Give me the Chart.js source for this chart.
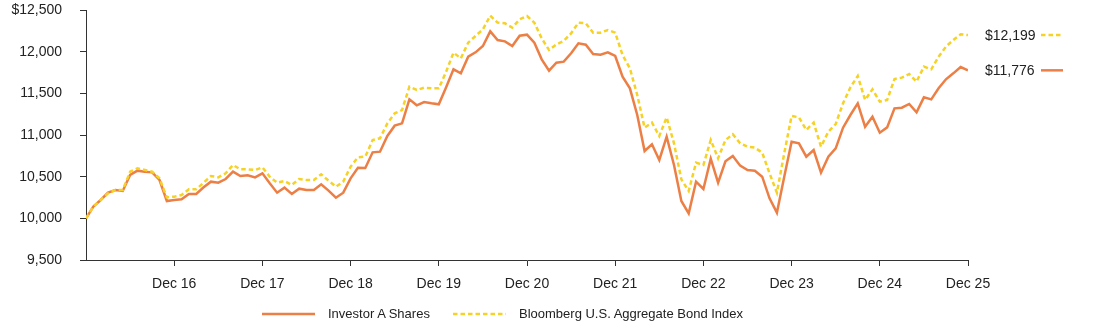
<!DOCTYPE html>
<html>
<head>
<meta charset="utf-8">
<script src="https://cdn.jsdelivr.net/npm/chart.js@4.4.1/dist/chart.umd.min.js"></script>
<style>
  html, body { margin: 0; padding: 0; background: #fff; }
  #wrap { position: relative; width: 1094px; height: 327px; }
  #c { display: block; }
  #legend { position: absolute; left: 0; top: 305px; height: 18px; width: 1094px;
    font-family: Arial, "Liberation Sans", sans-serif; font-size: 13px; color: #222; }
  .li { position: absolute; top: 0; height: 18px; line-height: 18px; white-space: nowrap; }
  .sw { position: absolute; top: 0; }
</style>
</head>
<body>
<div id="wrap">
  <canvas id="c" width="1094" height="327"></canvas>
  <div id="legend"></div>
</div>
<script>
const seriesNames = ["Investor A Shares", "Bloomberg U.S. Aggregate Bond Index"];
const xTickLabels = ["Dec 16","Dec 17","Dec 18","Dec 19","Dec 20","Dec 21","Dec 22","Dec 23","Dec 24","Dec 25"];
const yTickValues = [9500, 10000, 10500, 11000, 11500, 12000, 12500];

const investorA = [
  10000,10140,10220,10308,10340,10328,10520,10572,10560,10552,10460,10208,
  10220,10228,10292,10292,10372,10440,10428,10472,10560,10508,10516,10492,
  10540,10420,10308,10368,10292,10356,10340,10340,10408,10332,10248,10308,
  10480,10608,10604,10792,10800,10988,11112,11140,11428,11356,11396,11380,
  11368,11572,11788,11740,11940,11992,12068,12244,12140,12124,12068,12192,
  12204,12108,11908,11772,11868,11880,11980,12100,12084,11972,11964,11992,
  11948,11700,11560,11240,10808,10888,10700,10980,10640,10208,10060,10440,
  10352,10716,10428,10684,10748,10632,10580,10572,10500,10240,10068,10500,
  10920,10900,10740,10820,10548,10740,10840,11088,11240,11380,11100,11220,
  11028,11092,11320,11328,11372,11272,11452,11428,11560,11668,11740,11816,
  11776
];
const bloomberg = [
  10000,10140,10220,10300,10340,10340,10560,10600,10580,10560,10480,10252,
  10260,10280,10348,10348,10428,10508,10492,10540,10640,10588,10588,10580,
  10612,10500,10428,10448,10400,10472,10460,10460,10528,10452,10380,10440,
  10620,10732,10740,10940,10960,11140,11260,11300,11580,11540,11568,11560,
  11560,11760,11988,11920,12108,12188,12268,12432,12348,12340,12288,12388,
  12428,12348,12160,12020,12088,12128,12220,12348,12340,12228,12228,12260,
  12228,11960,11800,11480,11088,11148,10988,11212,10900,10468,10328,10668,
  10640,10940,10720,10940,11008,10900,10860,10848,10788,10540,10308,10780,
  11228,11212,11060,11148,10860,11040,11132,11380,11572,11708,11420,11548,
  11400,11420,11672,11688,11732,11640,11820,11788,11940,12060,12140,12208,
  12199
];

const ORANGE = "#EC7F45";
const YELLOW = "#F6D226";
const FONT = 'Arial, "Liberation Sans", sans-serif';
const DASH = [4.5, 3];

function fmt(v) { return v.toLocaleString("en-US"); }

const endLabels = {
  id: "endLabels",
  afterDatasetsDraw(chart) {
    const ctx = chart.ctx;
    const ys = chart.scales.y;
    ctx.save();
    ctx.font = "14px " + FONT;
    ctx.fillStyle = "#222";
    ctx.textAlign = "left";
    ctx.textBaseline = "middle";
    chart.data.datasets.forEach(ds => {
      const last = ds.data[ds.data.length - 1].y;
      const y = ys.getPixelForValue(last);
      ctx.fillText("$" + fmt(last), 985, y + 1);
      ctx.beginPath();
      ctx.strokeStyle = ds.borderColor;
      ctx.lineWidth = ds.borderWidth;
      ctx.setLineDash(ds.borderDash || []);
      ctx.moveTo(1041, y);
      ctx.lineTo(1063, y);
      ctx.stroke();
      ctx.setLineDash([]);
    });
    ctx.restore();
  }
};

const chart = new Chart(document.getElementById("c"), {
  type: "line",
  data: {
    datasets: [
      {
        label: seriesNames[0],
        data: investorA.map((v, i) => ({ x: i, y: v })),
        borderColor: ORANGE,
        borderWidth: 2.5,
        pointRadius: 0,
        tension: 0,
        order: 1
      },
      {
        label: seriesNames[1],
        data: bloomberg.map((v, i) => ({ x: i, y: v })),
        borderColor: YELLOW,
        borderWidth: 2.5,
        borderDash: DASH,
        pointRadius: 0,
        tension: 0,
        order: 0
      }
    ]
  },
  options: {
    responsive: false,
    animation: false,
    events: [],
    layout: { padding: { left: 0, right: 126, top: 10, bottom: 37 } },
    plugins: { legend: { display: false }, tooltip: { enabled: false } },
    scales: {
      x: {
        type: "linear",
        min: 0,
        max: investorA.length - 1,
        afterBuildTicks(scale) {
          scale.ticks = xTickLabels.map((_, k) => ({ value: (k + 1) * 12 }));
        },
        afterFit(scale) { scale.height = 30; scale.paddingLeft = 0; scale.paddingRight = 0; },
        ticks: {
          autoSkip: false,
          maxRotation: 0,
          padding: 10,
          color: "#222",
          font: { family: FONT, size: 14 },
          callback: (v) => xTickLabels[v / 12 - 1]
        },
        grid: { drawOnChartArea: false, drawTicks: true, tickLength: 6, color: "#333", lineWidth: 1 },
        border: { display: true, color: "#333", width: 1 }
      },
      y: {
        min: yTickValues[0],
        max: yTickValues[yTickValues.length - 1],
        afterBuildTicks(scale) {
          scale.ticks = yTickValues.map(v => ({ value: v }));
        },
        afterFit(scale) { scale.width = 86; scale.paddingTop = 0; scale.paddingBottom = 0; },
        ticks: {
          padding: 18,
          color: "#222",
          font: { family: FONT, size: 14 },
          callback: (v) => (v === yTickValues[yTickValues.length - 1] ? "$" : "") + fmt(v)
        },
        grid: { drawOnChartArea: false, drawTicks: true, tickLength: 6, color: "#333", lineWidth: 1 },
        border: { display: true, color: "#333", width: 1 }
      }
    }
  },
  plugins: [endLabels]
});

// HTML legend
(function () {
  const leg = document.getElementById("legend");
  const items = [
    { name: seriesNames[0], color: ORANGE, dash: "" , left: 262 },
    { name: seriesNames[1], color: YELLOW, dash: DASH.join(","), left: 453 }
  ];
  items.forEach(it => {
    const sw = document.createElementNS("http://www.w3.org/2000/svg", "svg");
    sw.setAttribute("width", "53");
    sw.setAttribute("height", "18");
    sw.setAttribute("class", "sw");
    sw.style.left = it.left + "px";
    const ln = document.createElementNS("http://www.w3.org/2000/svg", "line");
    ln.setAttribute("x1", "0"); ln.setAttribute("x2", "53");
    ln.setAttribute("y1", "9"); ln.setAttribute("y2", "9");
    ln.setAttribute("stroke", it.color);
    ln.setAttribute("stroke-width", "2.5");
    if (it.dash) ln.setAttribute("stroke-dasharray", it.dash);
    sw.appendChild(ln);
    leg.appendChild(sw);
    const t = document.createElement("div");
    t.className = "li";
    t.style.left = (it.left + 66) + "px";
    t.textContent = it.name;
    leg.appendChild(t);
  });
})();
</script>
</body>
</html>
